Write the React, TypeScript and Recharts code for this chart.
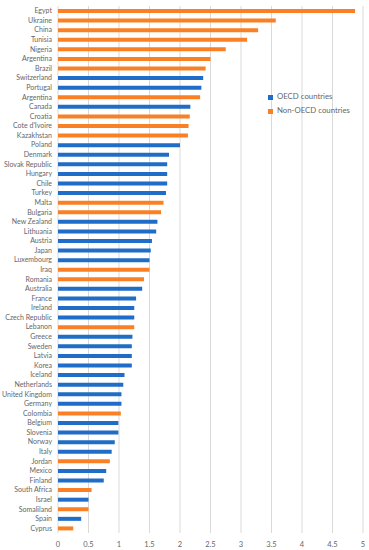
import React from "react";
import {
  BarChart,
  Bar,
  XAxis,
  YAxis,
  CartesianGrid,
  Legend,
} from "recharts";

const countries = [
  "Egypt", "Ukraine", "China", "Tunisia", "Nigeria", "Argentina", "Brazil",
  "Switzerland", "Portugal", "Argentina ", "Canada", "Croatia", "Cote d'Ivoire",
  "Kazakhstan", "Poland", "Denmark", "Slovak Republic", "Hungary", "Chile",
  "Turkey", "Malta", "Bulgaria", "New Zealand", "Lithuania", "Austria", "Japan",
  "Luxembourg", "Iraq", "Romania", "Australia", "France", "Ireland",
  "Czech Republic", "Lebanon", "Greece", "Sweden", "Latvia", "Korea", "Iceland",
  "Netherlands", "United Kingdom", "Germany", "Colombia", "Belgium", "Slovenia",
  "Norway", "Italy", "Jordan", "Mexico", "Finland", "South Africa", "Israel",
  "Somaliland", "Spain", "Cyprus",
];

// 1 = OECD member, 0 = non-OECD
const isOecd = [
  0, 0, 0, 0, 0, 0, 0,
  1, 1, 0, 1, 0, 0,
  0, 1, 1, 1, 1, 1,
  1, 0, 0, 1, 1, 1, 1,
  1, 0, 0, 1, 1, 1,
  1, 0, 1, 1, 1, 1, 1,
  1, 1, 1, 0, 1, 1,
  1, 1, 0, 1, 1, 0, 1,
  0, 1, 0,
];

const values = [
  4.87, 3.57, 3.28, 3.1, 2.75, 2.5, 2.42,
  2.38, 2.35, 2.33, 2.17, 2.16, 2.14,
  2.13, 2.0, 1.82, 1.79, 1.79, 1.79,
  1.77, 1.73, 1.69, 1.63, 1.61, 1.54, 1.52,
  1.5, 1.5, 1.41, 1.38, 1.28, 1.25,
  1.25, 1.25, 1.22, 1.21, 1.21, 1.21, 1.09,
  1.07, 1.04, 1.04, 1.03, 0.99, 0.99,
  0.93, 0.88, 0.85, 0.79, 0.75, 0.55, 0.5,
  0.5, 0.38, 0.25,
];

const xTicks = [0, 0.5, 1, 1.5, 2, 2.5, 3, 3.5, 4, 4.5, 5];

const data = countries.map((name, i) => ({
  name,
  oecd: isOecd[i] ? values[i] : null,
  nonOecd: isOecd[i] ? null : values[i],
}));

const BLUE = "#1f6dc6";
const ORANGE = "#f98024";
const GREY = "#666666";
const FONT = "Lato, 'Open Sans', sans-serif";

function CountryTick({ x, y, payload }: any) {
  return (
    <text x={x} y={y} dy={2.5} textAnchor="end" fontSize={7} fill={GREY}>
      {String(payload.value).trim()}
    </text>
  );
}

export default function App() {
  return (
    <div style={{ position: "absolute", left: 0, top: 0, background: "#fff" }}>
      <BarChart
        width={369}
        height={550}
        data={data}
        layout="vertical"
        margin={{ top: 6, right: 6, bottom: 0, left: 0 }}
        barCategoryGap={0}
        style={{ fontFamily: FONT }}
      >
        <CartesianGrid horizontal={false} stroke="#d9d9d9" />
        <XAxis
          type="number"
          domain={[0, 5]}
          ticks={xTicks}
          axisLine={false}
          tickLine={false}
          height={17}
          tickMargin={3}
          tick={{ fontSize: 7.5, fill: GREY }}
        />
        <YAxis
          type="category"
          dataKey="name"
          width={58}
          axisLine={false}
          tickLine={false}
          interval={0}
          tickSize={0}
          tickMargin={6}
          tick={<CountryTick />}
        />
        <Legend
          layout="vertical"
          verticalAlign="middle"
          align="center"
          iconType="square"
          iconSize={5}
          itemSorter={(item: any) => (item.value === "OECD countries" ? 0 : 1)}
          wrapperStyle={{ left: 268, top: 89, width: 98, fontSize: 7.8, lineHeight: "14px" }}
          formatter={(v) => <span style={{ color: GREY }}>{v}</span>}
        />
        <Bar
          dataKey="oecd"
          name="OECD countries"
          stackId="a"
          fill={BLUE}
          barSize={4}
          isAnimationActive={false}
        />
        <Bar
          dataKey="nonOecd"
          name="Non-OECD countries"
          stackId="a"
          fill={ORANGE}
          barSize={4}
          isAnimationActive={false}
        />
      </BarChart>
    </div>
  );
}
